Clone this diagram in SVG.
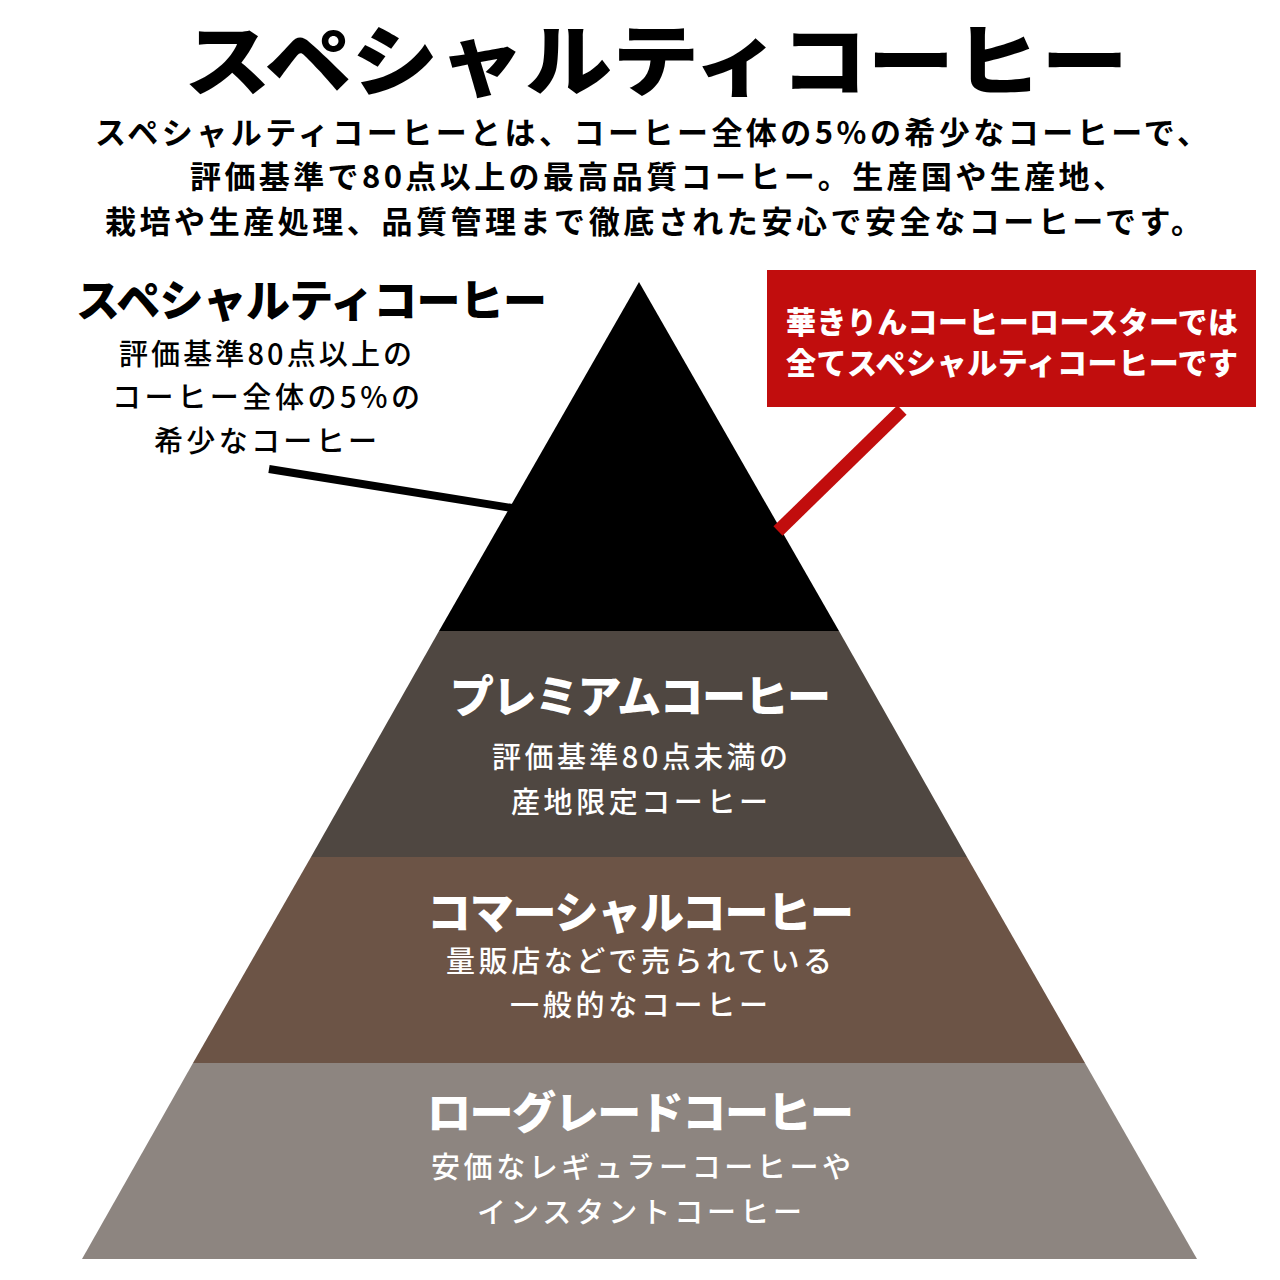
<svg xmlns="http://www.w3.org/2000/svg" width="1280" height="1280" viewBox="0 0 1280 1280">
<style>
text{font-family:"Noto Sans CJK JP","Noto Sans",sans-serif;}
.title{font-size:78px;font-weight:900;fill:#000;}
.sub{font-size:31px;font-weight:700;fill:#000;}
.h{font-size:44px;font-weight:900;}
.b{font-size:29px;font-weight:500;}
.w{fill:#fff;}
.k{fill:#000;}
.rb{font-size:30px;font-weight:900;fill:#fff;}
</style>
<rect width="1280" height="1280" fill="#fff"/>
<g id="header">
<text class="title" x="184" y="90" textLength="944" lengthAdjust="spacingAndGlyphs">スペシャルティコーヒー</text>
<text class="sub" x="95" y="144" textLength="1113" lengthAdjust="spacing">スペシャルティコーヒーとは、コーヒー全体の5%の希少なコーヒーで、</text>
<text class="sub" x="190" y="188" textLength="934" lengthAdjust="spacing">評価基準で80点以上の最高品質コーヒー。生産国や生産地、</text>
<text class="sub" x="105" y="233" textLength="1097" lengthAdjust="spacing">栽培や生産処理、品質管理まで徹底された安心で安全なコーヒーです。</text>
</g>
<g id="tier-specialty">
<polygon points="639,282 839,631 439,631" fill="#000"/>
</g>
<g id="tier-premium">
<polygon points="439,631 839,631 967,857 311,857" fill="#4f4741"/>
<text class="h w" x="450" y="713" textLength="381" lengthAdjust="spacing">プレミアムコーヒー</text>
<text class="b w" x="492" y="768" textLength="296" lengthAdjust="spacing">評価基準80点未満の</text>
<text class="b w" x="511" y="813" textLength="257" lengthAdjust="spacing">産地限定コーヒー</text>
</g>
<g id="tier-commercial">
<polygon points="311,857 967,857 1085,1063 193,1063" fill="#6c5446"/>
<text class="h w" x="427" y="929" textLength="427" lengthAdjust="spacing">コマーシャルコーヒー</text>
<text class="b w" x="446" y="972" textLength="386" lengthAdjust="spacing">量販店などで売られている</text>
<text class="b w" x="510" y="1016" textLength="258" lengthAdjust="spacing">一般的なコーヒー</text>
</g>
<g id="tier-lowgrade">
<polygon points="193,1063 1085,1063 1197,1259 82,1259" fill="#8d8580"/>
<text class="h w" x="427" y="1129" textLength="427" lengthAdjust="spacing">ローグレードコーヒー</text>
<text class="b w" x="431" y="1178" textLength="420" lengthAdjust="spacing">安価なレギュラーコーヒーや</text>
<text class="b w" x="477" y="1223" textLength="325" lengthAdjust="spacing">インスタントコーヒー</text>
</g>
<g id="label-specialty">
<text class="h k" x="76" y="317" textLength="471" lengthAdjust="spacing">スペシャルティコーヒー</text>
<text class="b k" x="119" y="365" textLength="293" lengthAdjust="spacing">評価基準80点以上の</text>
<text class="b k" x="112" y="408" textLength="308" lengthAdjust="spacing">コーヒー全体の5%の</text>
<text class="b k" x="154" y="452" textLength="223" lengthAdjust="spacing">希少なコーヒー</text>
</g>
<g id="callout-kirin">
<rect x="767" y="270" width="489" height="137" fill="#c10d0d"/>
<text class="rb" x="786" y="333" textLength="452" lengthAdjust="spacing">華きりんコーヒーロースターでは</text>
<text class="rb" x="786" y="374" textLength="452" lengthAdjust="spacing">全てスペシャルティコーヒーです</text>
</g>
<g id="connectors">
<line x1="269" y1="469" x2="512" y2="508" stroke="#000" stroke-width="8"/>
<line x1="902" y1="410" x2="778" y2="531" stroke="#c10d0d" stroke-width="13"/>
</g>
</svg>
